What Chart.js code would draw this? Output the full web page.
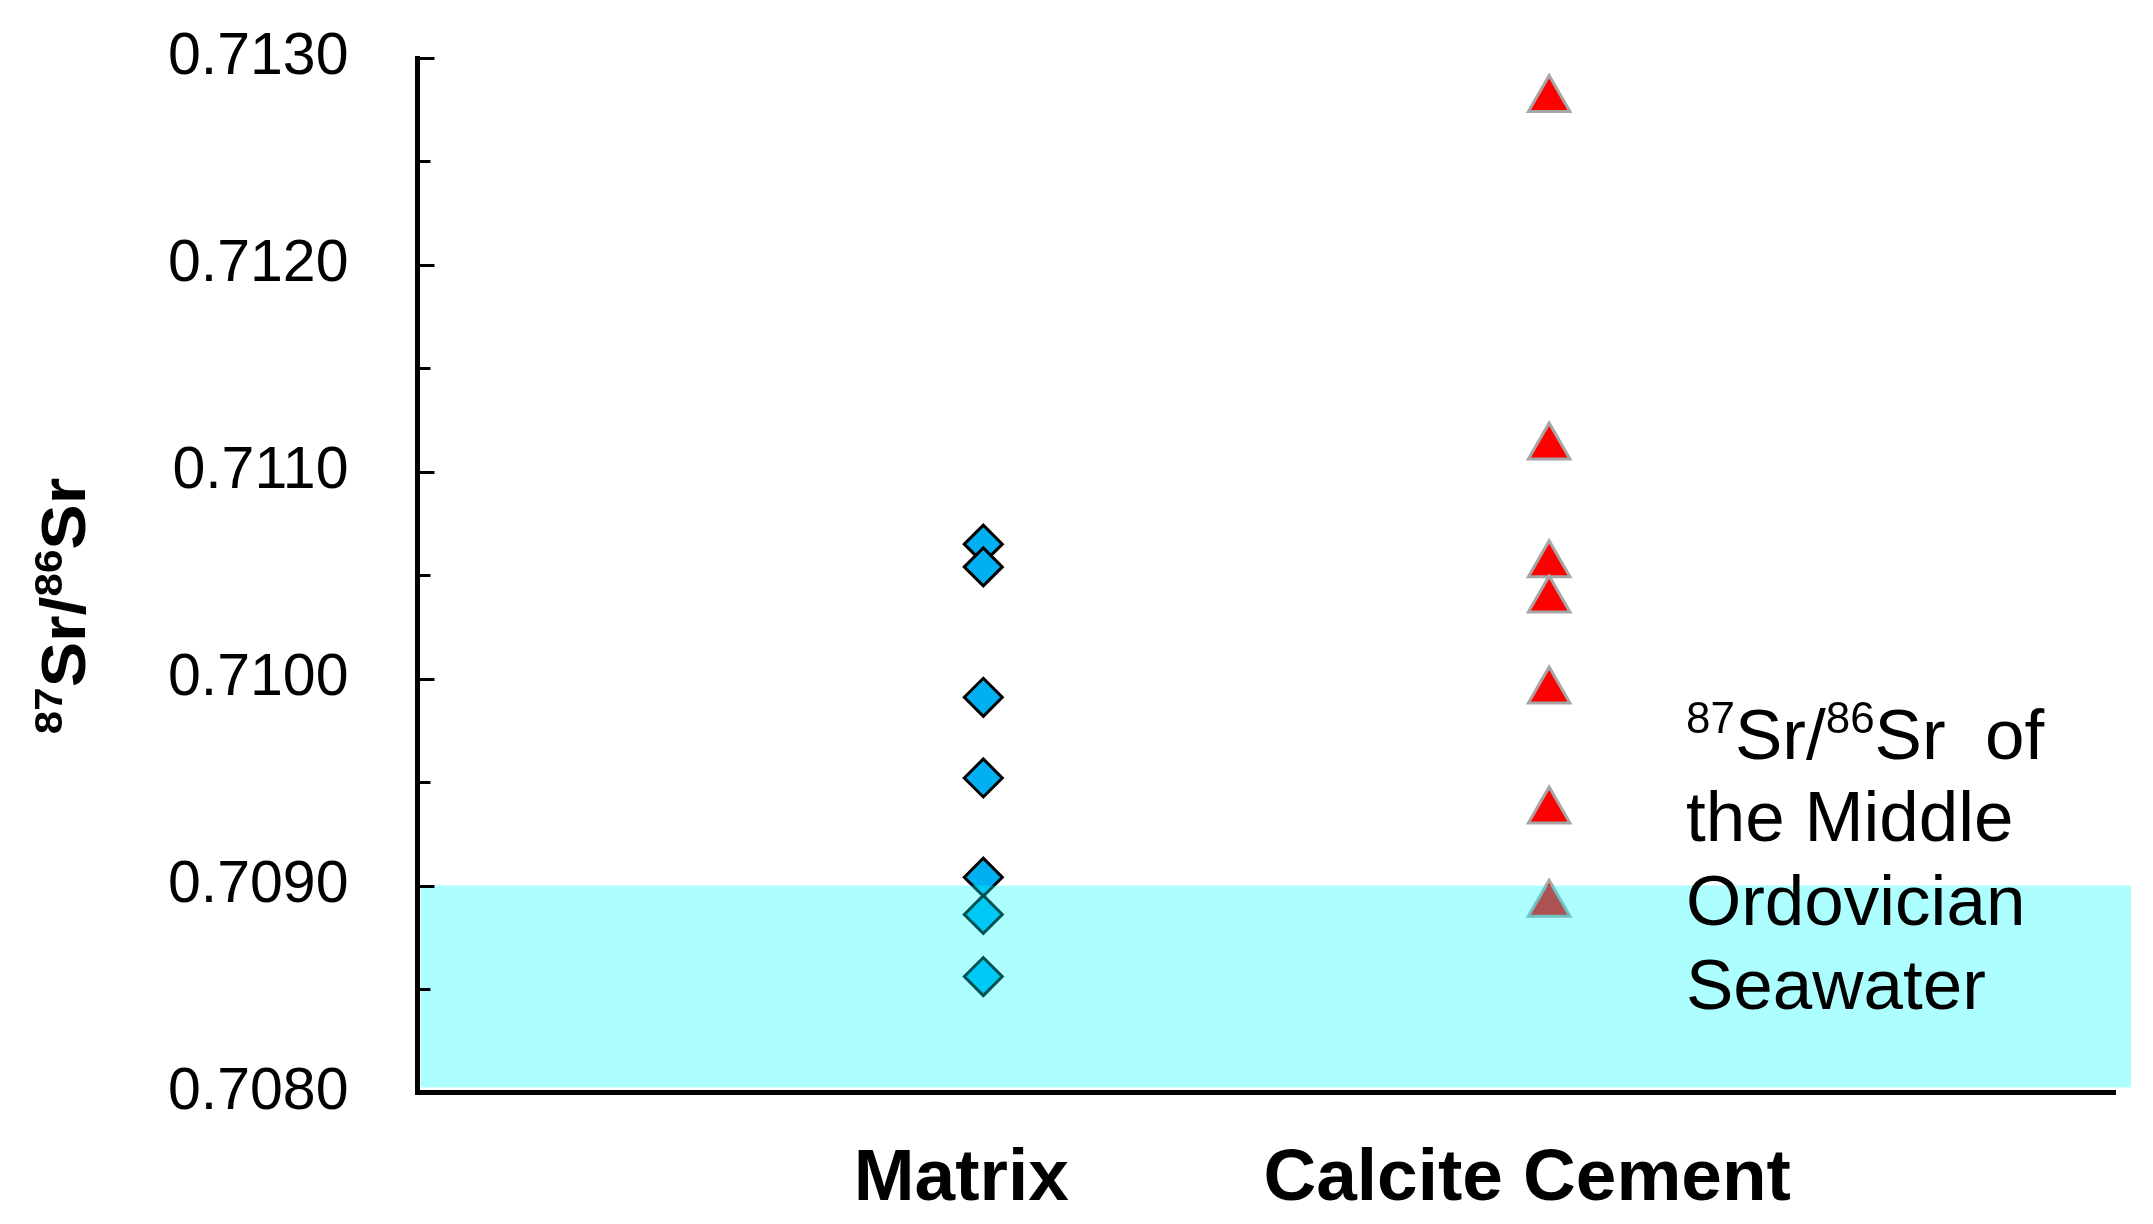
<!DOCTYPE html>
<html>
<head>
<meta charset="utf-8">
<style>
  html, body { margin: 0; padding: 0; background: #fff; }
  #wrap { width: 2153px; height: 1224px; position: relative; }
</style>
</head>
<body>
<div id="wrap"><canvas id="srChart"></canvas></div>
<script src="https://cdn.jsdelivr.net/npm/chart.js"></script>
<script>
// values
const categories = ['Matrix', 'Calcite Cement'];
const categoryPos = [1, 2];
const matrixValues = [0.71065, 0.71054, 0.70991, 0.70952, 0.70904, 0.70886, 0.70856];
const cementValues = [0.71280, 0.71112, 0.71055, 0.71038, 0.70994, 0.70936, 0.70891];
const yTicks = [0.7080, 0.7090, 0.7100, 0.7110, 0.7120, 0.7130];
const yMinorTicks = [0.7085, 0.7095, 0.7105, 0.7115, 0.7125];
const seawaterBand = [0.7080, 0.7090];
const bandNote = ['the Middle', 'Ordovician', 'Seawater'];

const FONT = '"Liberation Sans", Arial, sans-serif';

// draws text with superscript pieces, parts = [[text, isSup], ...]
function richText(ctx, parts, x, y, size, bold, align) {
    const w = bold ? 'bold ' : '';
    const supSize = Math.round(size * 0.62);
    let total = 0;
    parts.forEach(p => {
        ctx.font = w + (p[1] ? supSize : size) + 'px ' + FONT;
        total += ctx.measureText(p[0]).width;
    });
    let cx = align === 'center' ? x - total / 2 : x;
    parts.forEach(p => {
        ctx.font = w + (p[1] ? supSize : size) + 'px ' + FONT;
        ctx.fillText(p[0], cx, p[1] ? y - size * 0.36 : y);
        cx += ctx.measureText(p[0]).width;
    });
}

const overlay = {
    id: 'overlay',
    afterDatasetsDraw(chart) {
        const {ctx, scales: {x, y}} = chart;
        const top = y.getPixelForValue(seawaterBand[1]);
        const bottom = y.getPixelForValue(seawaterBand[0]) - 5;
        ctx.save();
        ctx.fillStyle = 'rgba(0,255,255,0.32)';
        ctx.fillRect(x.left + 3, top, x.right - x.left + 13, bottom - top);
        ctx.restore();
    },
    afterDraw(chart) {
        const {ctx, scales: {y}} = chart;
        ctx.save();
        // inward tick marks
        ctx.strokeStyle = '#000';
        ctx.lineWidth = 3;
        const x0 = y.right;
        yTicks.concat(yMinorTicks).forEach(v => {
            const len = yTicks.includes(v) ? 17 : 13;
            const py = Math.round(y.getPixelForValue(v)) + 0.5;
            ctx.beginPath();
            ctx.moveTo(x0, py);
            ctx.lineTo(x0 + len, py);
            ctx.stroke();
        });

        ctx.fillStyle = '#000';
        ctx.textBaseline = 'alphabetic';
        ctx.textAlign = 'left';

        // y axis title
        ctx.save();
        ctx.translate(85, 606);
        ctx.rotate(-Math.PI / 2);
        ctx.scale(1.08, 1);
        richText(ctx, [['87', true], ['Sr', false], ['/', false], ['86', true], ['Sr', false]], 0, 0, 63, true, 'center');
        ctx.restore();

        // note on the seawater band
        const nx = 1686;
        richText(ctx, [['87', true], ['Sr/', false], ['86', true], ['Sr  of', false]], nx, 759, 71, false, 'left');
        ctx.font = '71px ' + FONT;
        bandNote.forEach((t, i) => ctx.fillText(t, nx, 841 + i * 84));
        ctx.restore();
    }
};

new Chart(document.getElementById('srChart'), {
    type: 'scatter',
    data: {
        datasets: [{
            label: 'Matrix',
            data: matrixValues.map(v => ({x: categoryPos[0], y: v})),
            pointStyle: 'rectRot',
            pointRadius: 19,
            backgroundColor: '#00B0F0',
            borderColor: '#000',
            borderWidth: 3
        }, {
            label: 'Calcite Cement',
            data: cementValues.map(v => ({x: categoryPos[1], y: v})),
            pointStyle: 'triangle',
            pointRadius: 24,
            backgroundColor: '#FF0000',
            borderColor: '#A6A6A6',
            borderWidth: 3
        }]
    },
    options: {
        responsive: true,
        maintainAspectRatio: false,
        animation: false,
        layout: { padding: { left: 146, top: 58, right: 38, bottom: 0 } },
        plugins: { legend: { display: false }, tooltip: { enabled: false } },
        scales: {
            x: {
                type: 'linear',
                min: 0,
                max: 3,
                afterBuildTicks: axis => { axis.ticks = categoryPos.map(v => ({value: v})); },
                ticks: {
                    callback: v => categories[categoryPos.indexOf(v)],
                    font: { family: FONT, size: 73, weight: 'bold' },
                    color: '#000',
                    padding: 0,
                    labelOffset: -22,
                    maxRotation: 0
                },
                grid: { display: true, drawOnChartArea: false, drawTicks: true, tickLength: 44, tickColor: 'rgba(0,0,0,0)' },
                border: { display: true, color: '#000', width: 5 }
            },
            y: {
                min: 0.7080,
                max: 0.7130,
                afterBuildTicks: axis => { axis.ticks = yTicks.map(v => ({value: v})); },
                ticks: {
                    callback: v => v.toFixed(4),
                    font: { family: FONT, size: 59 },
                    color: '#000',
                    padding: 22
                },
                grid: { display: true, drawOnChartArea: false, drawTicks: true, tickLength: 47, tickColor: 'rgba(0,0,0,0)' },
                border: { display: true, color: '#000', width: 5 }
            }
        }
    },
    plugins: [overlay]
});
</script>
</body>
</html>
